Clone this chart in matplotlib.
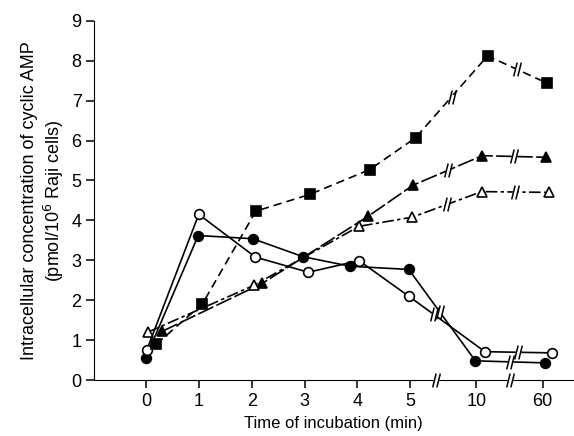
import numpy as np
import matplotlib
matplotlib.use("Agg")
import matplotlib.pyplot as plt
from matplotlib.path import Path

plt.rcParams["font.family"] = ["Liberation Sans", "DejaVu Sans"]

# tick positions on the broken time axis (0-5 min linear, then 10 and 60)
tick_pos = [0, 1, 2, 3, 4, 5, 6.25, 7.5]
tick_labels = ["0", "1", "2", "3", "4", "5", "10", "60"]
axis_breaks = [5.48, 6.88]

# values (x in axis positions, y in pmol/10^6 cells)
closed_circle_x = [0.0, 0.99, 2.02, 2.97, 3.86, 4.97, 6.23, 7.54]
closed_circle_y = [0.56, 3.62, 3.54, 3.09, 2.85, 2.77, 0.48, 0.43]

open_circle_x = [0.02, 1.0, 2.07, 3.07, 4.03, 4.97, 6.41, 7.67]
open_circle_y = [0.76, 4.15, 3.08, 2.70, 2.99, 2.10, 0.71, 0.68]

closed_square_x = [0.2, 1.07, 2.08, 3.1, 4.23, 5.1, 6.46, 7.58]
closed_square_y = [0.90, 1.91, 4.23, 4.65, 5.27, 6.07, 8.12, 7.44]

closed_tri_x = [0.31, 2.2, 4.2, 5.05, 6.36, 7.56]
closed_tri_y = [1.22, 2.42, 4.10, 4.88, 5.62, 5.58]

open_tri_x = [0.04, 2.04, 4.03, 5.04, 6.35, 7.62]
open_tri_y = [1.20, 2.37, 3.85, 4.08, 4.72, 4.70]

# "//" break symbol as a marker path
break_mark = Path([(-0.55, -1), (-0.05, 1), (0.05, -1), (0.55, 1)],
                  [Path.MOVETO, Path.LINETO, Path.MOVETO, Path.LINETO])

fig = plt.figure(figsize=(5.74, 4.36), dpi=100)
ax = fig.add_axes([0.1638, 0.1284, 0.834, 0.824])

series = [
    (closed_circle_x, closed_circle_y, "o", "k", "-", 0.47),
    (open_circle_x, open_circle_y, "o", "white", "-", 0.33),
    (closed_square_x, closed_square_y, "s", "k", (0, (5, 3)), 0.5),
    (closed_tri_x, closed_tri_y, "^", "k", (0, (10, 2)), 0.5),
    (open_tri_x, open_tri_y, "^", "white", (0, (7, 2, 2, 2)), 0.5),
]


def draw_break(x, y, clip=True):
    ax.plot([x], [y], marker="o", markersize=4, color="white", ls="none",
            markeredgecolor="none", zorder=4, clip_on=clip)
    ax.plot([x], [y], marker=break_mark, markersize=10, color="k", ls="none",
            markeredgewidth=1.1, zorder=5, clip_on=clip)


for xs, ys, mk, fc, ls, frac in series:
    ax.plot(xs, ys, linestyle=ls, color="k", lw=1.2, marker=mk,
            markersize=7, markerfacecolor=fc, markeredgecolor="k",
            markeredgewidth=1.2, zorder=3)
    # break marks on the segments that cross the axis breaks
    for i in range(len(xs) - 1):
        if xs[i] < 5.5 < xs[i + 1]:
            f = frac
        elif xs[i] < 6.9 < xs[i + 1]:
            f = 0.5
        else:
            continue
        draw_break(xs[i] + f * (xs[i + 1] - xs[i]),
                   ys[i] + f * (ys[i + 1] - ys[i]))

for bx in axis_breaks:
    draw_break(bx, 0, clip=False)

ax.set_xlim(-0.98, 8.07)
ax.set_ylim(0, 9)
ax.set_xticks(tick_pos)
ax.set_xticklabels(tick_labels)
ax.set_yticks(range(10))
ax.spines["top"].set_visible(False)
ax.spines["right"].set_visible(False)
ax.tick_params(axis="both", direction="out", length=6, width=1.1,
               labelsize=13, pad=3)
ax.set_xlabel("Time of incubation (min)", fontsize=12, labelpad=5)
ax.set_ylabel("Intracellular concentration of cyclic AMP\n"
              "(pmol/10$^{6}$ Raji cells)", fontsize=13, labelpad=4,
              linespacing=1.2)

fig.savefig("out.png", dpi=100)
